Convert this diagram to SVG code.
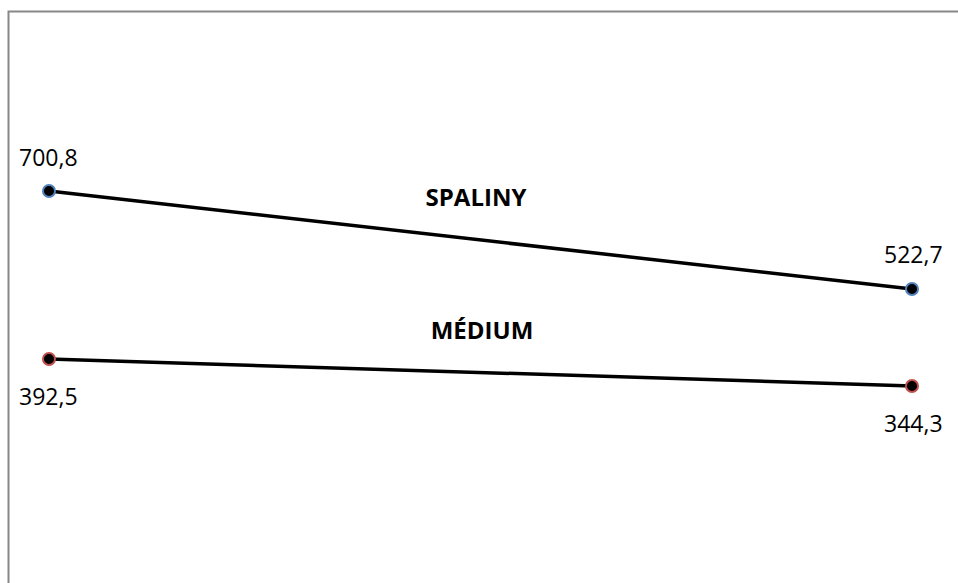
<svg xmlns="http://www.w3.org/2000/svg" width="958" height="583" viewBox="0 0 958 583">
<style>
.val{font-family:"Open Sans","Liberation Sans",sans-serif;font-size:23px;fill:#000}
.ttl{font-family:"Open Sans","Liberation Sans",sans-serif;font-size:24px;font-weight:bold;fill:#000;text-anchor:middle}
.ln{stroke:#000;stroke-width:3.5;fill:none}
.db{fill:#000;stroke:#4f81bd;stroke-width:2}
.dr{fill:#000;stroke:#c0504d;stroke-width:2}
</style>
<rect x="0" y="0" width="958" height="583" fill="#fff"/>
<path d="M8.5 583 V11.5 H958" fill="none" stroke="#888" stroke-width="2"/>
<g id="connectors">
<line class="ln" x1="49" y1="191" x2="912" y2="289"/>
<line class="ln" x1="49" y1="359" x2="912" y2="386"/>
</g>
<g id="spaliny-start"><circle class="db" cx="49" cy="191" r="6"/><text class="val" x="19" y="166">700,8</text></g>
<g id="spaliny-end"><circle class="db" cx="912" cy="289" r="6"/><text class="val" x="884" y="263">522,7</text></g>
<g id="medium-start"><circle class="dr" cx="49" cy="359" r="6"/><text class="val" x="19" y="405">392,5</text></g>
<g id="medium-end"><circle class="dr" cx="912" cy="386" r="6"/><text class="val" x="884" y="432">344,3</text></g>
<g id="label-spaliny"><text class="ttl" x="476" y="206">SPALINY</text></g>
<g id="label-medium"><text class="ttl" x="482" y="339">MÉDIUM</text></g>
</svg>
